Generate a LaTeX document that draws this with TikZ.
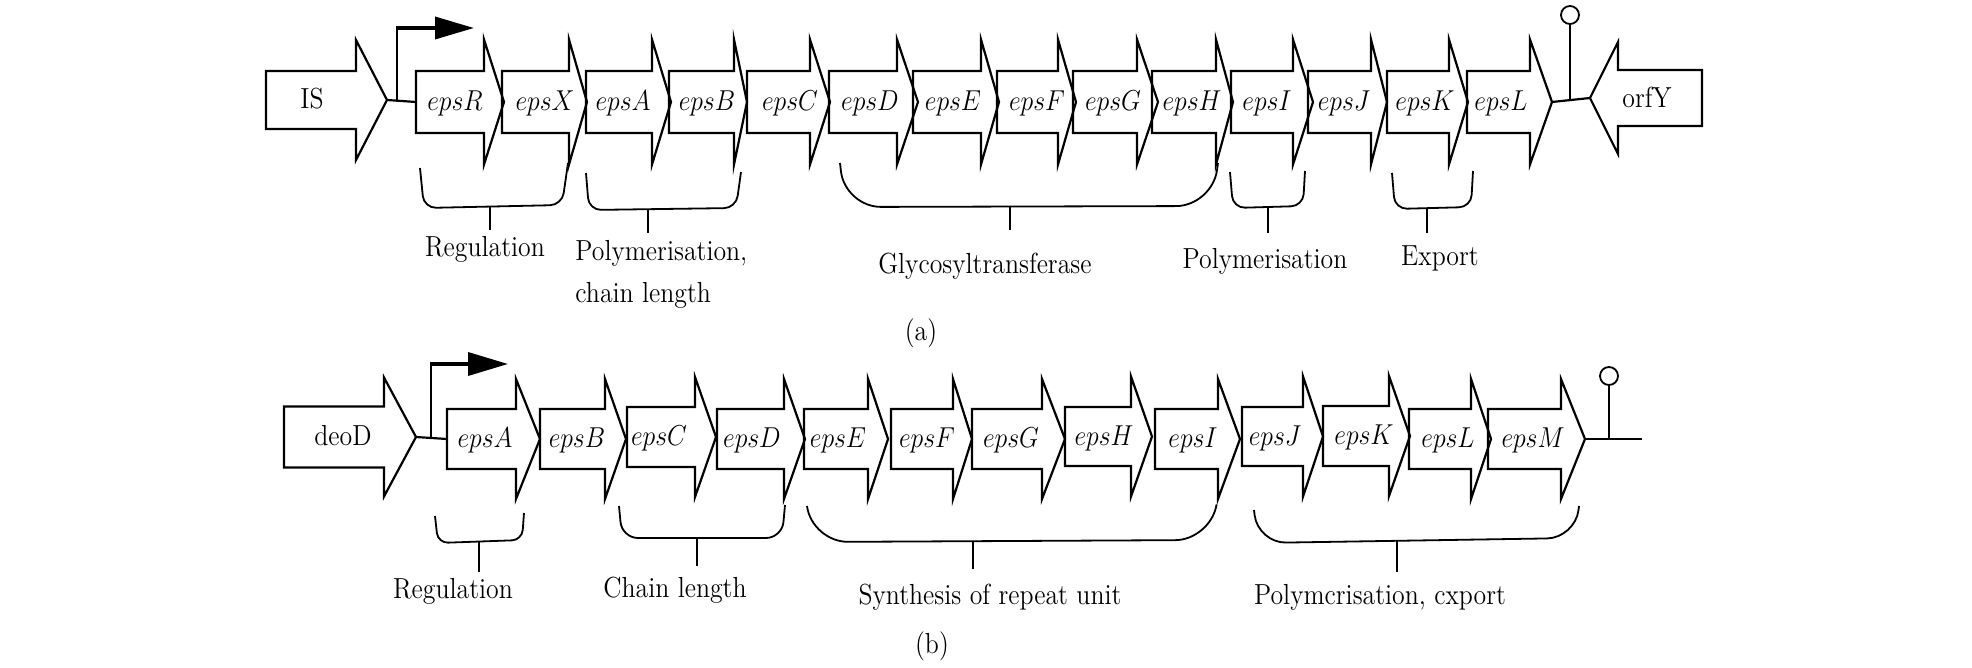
\documentclass[tikz,border=0pt]{standalone}
\usetikzlibrary{arrows.meta}
\newcommand{\nar}[1]{\scalebox{0.89}[1]{#1}}
% #1 name, #2 left, #3 head start, #4 tip, #5 centre y, #6 body half height, #7 head half height, #8 label x, #9 label
\newcommand{\genearrow}[9]{%
  \draw[genestyle] (#2,{#5-#6}) -- (#3,{#5-#6}) -- (#3,{#5-#7}) -- (#4,#5) -- (#3,{#5+#7}) -- (#3,{#5+#6}) -- (#2,{#5+#6}) -- cycle;
  \coordinate (#1-l) at (#2,#5);
  \coordinate (#1-t) at (#4,#5);
  \node[genelab] (#1) at (#8,{#5+8.5}) {\nar{#9}};
}
\begin{document}
\begin{tikzpicture}[x=0.5pt,y=-0.5pt,
  genestyle/.style={draw=black,line width=1.1pt,line join=miter},
  genelab/.style={inner sep=0pt,anchor=base,font=\fontsize{14.5}{21}\selectfont},
  lab/.style={inner sep=0pt,anchor=base,font=\fontsize{14.5}{21}\selectfont},
  brace/.style={draw=black,line width=0.9pt},
  stem/.style={draw=black,line width=0.9pt},
  link/.style={draw=black,line width=1.1pt},
  promo/.style={draw=black,line width=1.8pt},
  term/.style={circle,draw=black,line width=0.9pt,minimum size=9pt,inner sep=0pt}]
\useasboundingbox[fill=white] (0,0) rectangle (1972,668);

% ---------------- row (a) ----------------
\genearrow{aIS}{266}{356}{387}{100}{29}{60}{312}{IS}
\genearrow{aR}{416}{484}{504}{102}{31}{62.5}{455}{$epsR$}
\genearrow{aX}{502}{569}{587}{102}{31}{62.5}{545}{$epsX$}
\genearrow{aA}{586}{652}{671}{102}{31}{62.5}{623}{$epsA$}
\genearrow{aB}{669}{734}{747}{102}{31}{62.5}{707}{$epsB$}
\genearrow{aC}{747}{810}{830}{102}{31}{62.5}{790}{$epsC$}
\genearrow{aD}{829}{897}{918}{102}{31}{62.5}{870}{$epsD$}
\genearrow{aE}{913}{981}{999}{102}{31}{62.5}{953}{$epsE$}
\genearrow{aF}{997}{1058}{1076}{102}{31}{62.5}{1037}{$epsF$}
\genearrow{aG}{1073}{1137}{1158}{102}{31}{62.5}{1113}{$epsG$}
\genearrow{aH}{1152}{1216}{1233}{102}{31}{62.5}{1192}{$epsH$}
\genearrow{aI}{1231}{1293}{1313}{102}{31}{62.5}{1267}{$epsI$}
\genearrow{aJ}{1308}{1371}{1387}{102}{31}{62.5}{1344}{$epsJ$}
\genearrow{aK}{1387}{1449}{1468}{102}{31}{62.5}{1425}{$epsK$}
\genearrow{aL}{1467}{1530}{1552}{102}{31}{62.5}{1501}{$epsL$}

% orfY (reverse)
\draw[genestyle] (1702,70) -- (1618,70) -- (1618,42) -- (1590,98) -- (1618,154) -- (1618,126) -- (1702,126) -- cycle;
\coordinate (aorfY-t) at (1590,98);
\node[genelab] (aorfY) at (1647,108) {\nar{orfY}};

% promoter (a)
\draw[link] (aIS-t) -- (aR-l);
\coordinate (apj) at (397,100);
\coordinate (aptop) at (397,28);
\coordinate (apend) at (474,28);
\draw[link] (apj) -- (aptop);
\draw[promo,-{Triangle[length=19.5pt,width=11pt]}] ([xshift=-0.55pt]aptop) -- (apend);

% terminator (a)
\draw[link] (aL-t) -- (aorfY-t);
\coordinate (aterm) at (1570,100);
\node[term] (acirc) at (1570,15) {};
\draw[link] (aterm) -- (acirc.south);

% braces (a)
\draw[brace,rounded corners=6pt] (420,168) -- (424,208) -- (562,205) -- (568,163);
\draw[brace,rounded corners=6pt] (586,173) -- (589,210) -- (736,208) -- (741,172);
\draw[brace,rounded corners=18pt] (840,163) -- (845,207) -- (1212,206) -- (1218,163);
\draw[brace,rounded corners=6pt] (1230,172) -- (1233,208) -- (1303,206) -- (1305,171);
\draw[brace,rounded corners=6pt] (1392,173) -- (1395,209) -- (1471,207) -- (1473,171);

\coordinate (as1) at (490,207);  \coordinate (as1e) at (490,230);
\coordinate (as2) at (648,210);  \coordinate (as2e) at (648,233);
\coordinate (as3) at (1010,207); \coordinate (as3e) at (1010,230);
\coordinate (as4) at (1268,208); \coordinate (as4e) at (1268,233);
\coordinate (as5) at (1427,209); \coordinate (as5e) at (1427,233);
\draw[stem] (as1) -- (as1e);
\draw[stem] (as2) -- (as2e);
\draw[stem] (as3) -- (as3e);
\draw[stem] (as4) -- (as4e);
\draw[stem] (as5) -- (as5e);

\node[lab] (alab1) at (485,257) {\nar{Regulation}};
\node[lab,anchor=north west,align=left] (alab2) at (575,240) {\nar{Polymerisation,}\\\nar{chain length}};
\node[lab] (alab3) at (985,274) {\nar{Glycosyltransferase}};
\node[lab] (alab4) at (1265,269) {\nar{Polymerisation}};
\node[lab] (alab5) at (1440,266) {\nar{Export}};
\node[lab] (acap) at (921,341) {\nar{(a)}};

% ---------------- row (b) ----------------
\genearrow{bdeoD}{284}{384}{416}{437}{30.5}{59.5}{343}{deoD}
\genearrow{bA}{447}{516}{540}{439}{30}{60}{485}{$epsA$}
\genearrow{bB}{540}{605}{626}{439}{30}{60}{577}{$epsB$}
\genearrow{bC}{627}{695}{716}{437}{30}{60}{659}{$epsC$}
\genearrow{bD}{717}{784}{805}{439}{30}{60}{752}{$epsD$}
\genearrow{bE}{804}{868}{888}{439}{30}{60}{838}{$epsE$}
\genearrow{bF}{891}{953}{972}{439}{30}{60}{927}{$epsF$}
\genearrow{bG}{972}{1042}{1065}{439}{30}{60}{1011}{$epsG$}
\genearrow{bH}{1065}{1131}{1152}{436.5}{29.5}{60}{1104}{$epsH$}
\genearrow{bI}{1155}{1218}{1240}{439}{30}{60}{1193}{$epsI$}
\genearrow{bJ}{1242}{1303}{1323}{436.5}{29.5}{60}{1275}{$epsJ$}
\genearrow{bK}{1323}{1389}{1410}{436}{30}{60}{1364}{$epsK$}
\genearrow{bL}{1409}{1471}{1491}{439}{30}{60}{1448}{$epsL$}
\genearrow{bM}{1488}{1561}{1585}{439}{30}{60}{1533}{$epsM$}

% promoter (b)
\draw[link] (bdeoD-t) -- (bA-l);
\coordinate (bpj) at (431,438);
\coordinate (bptop) at (431,364);
\coordinate (bpend) at (508,364);
\draw[link] (bpj) -- (bptop);
\draw[promo,-{Triangle[length=20pt,width=11.5pt]}] ([xshift=-0.55pt]bptop) -- (bpend);

% terminator (b)
\coordinate (bend) at (1642,439);
\draw[link] (bM-t) -- (bend);
\coordinate (bterm) at (1609,439);
\node[term] (bcirc) at (1609,376) {};
\draw[link] (bterm) -- (bcirc.south);

% braces (b)
\draw[brace,rounded corners=5pt] (435,516) -- (438,543) -- (522,540) -- (524,513);
\draw[brace,rounded corners=8pt] (619,506) -- (622,538) -- (782,538) -- (785,505);
\draw[brace,rounded corners=18pt] (807,506) -- (812,542) -- (1211,540) -- (1216,508);
\draw[brace,rounded corners=14pt] (1254,510) -- (1258,543) -- (1575,538) -- (1579,506);

\coordinate (bs1) at (479,541);  \coordinate (bs1e) at (479,572);
\coordinate (bs2) at (697,538);  \coordinate (bs2e) at (697,566);
\coordinate (bs3) at (973,541);  \coordinate (bs3e) at (973,569);
\coordinate (bs4) at (1397,541); \coordinate (bs4e) at (1397,572);
\draw[stem] (bs1) -- (bs1e);
\draw[stem] (bs2) -- (bs2e);
\draw[stem] (bs3) -- (bs3e);
\draw[stem] (bs4) -- (bs4e);

\node[lab] (blab1) at (453,598) {\nar{Regulation}};
\node[lab] (blab2) at (675,597) {\nar{Chain length}};
\node[lab] (blab3) at (990,604) {\nar{Synthesis of repeat unit}};
\node[lab] (blab4) at (1380,604) {\nar{Polymcrisation, cxport}};
\node[lab] (bcap) at (932,653) {\nar{(b)}};
\end{tikzpicture}
\end{document}
